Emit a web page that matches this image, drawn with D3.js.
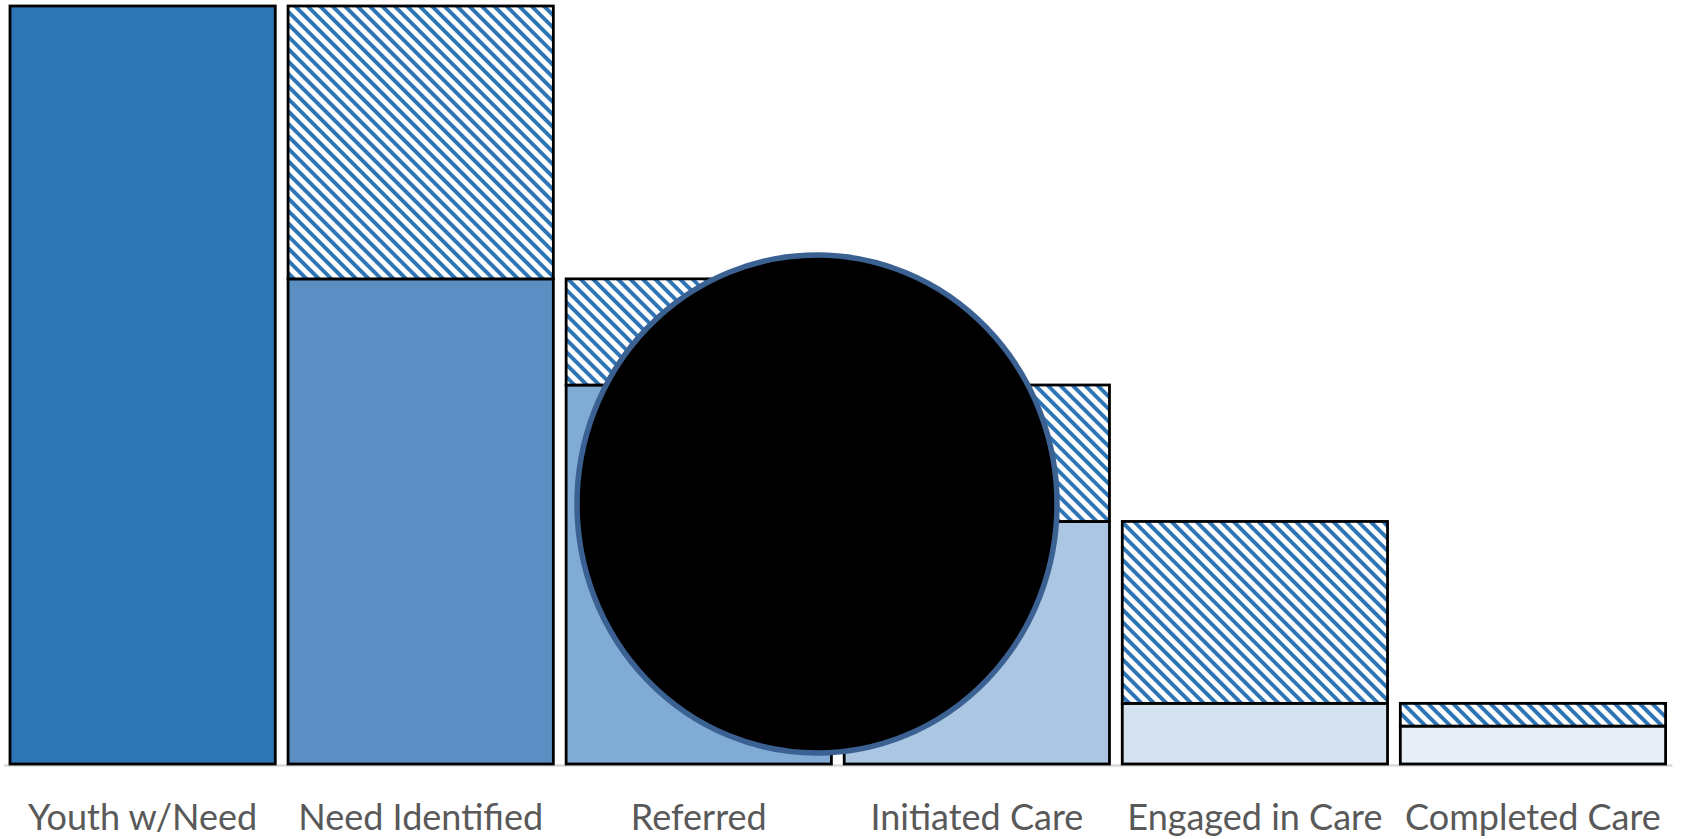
<!DOCTYPE html>
<html>
<head>
<meta charset="utf-8">
<script src="https://cdn.jsdelivr.net/npm/d3@7"></script>
<style>
  html, body { margin: 0; padding: 0; background: #ffffff; }
  svg { display: block; }
</style>
</head>
<body>
<svg id="chart" width="1682" height="839"></svg>
<script>
// Care cascade: share of youth with a need reaching each stage (%)
const categories = ["Youth w/Need", "Need Identified", "Referred", "Initiated Care", "Engaged in Care", "Completed Care"];
const reached = [100, 64, 50, 32, 8, 5];        // solid part of each bar
const lost    = [0, 36, 14, 18, 24, 3];         // hatched part: dropped since previous stage
const stageColors = ["#2E75B6", "#5B8FC3", "#80ABD5", "#ABC6E2", "#D4E1EF", "#E7EEF7"];

const svg = d3.select("#chart");
const baseY = 764, topY = 6;

const x = d3.scaleBand()
  .domain(categories)
  .range([3.6, 1672])
  .paddingInner(0.046)
  .paddingOuter(0.023);

const y = d3.scaleLinear()
  .domain([0, 100])
  .range([baseY, topY]);

// Diagonal hatch fill for the drop-off segments
const defs = svg.append("defs");
const period = 8.8;
const pat = defs.append("pattern")
  .attr("id", "hatch")
  .attr("patternUnits", "userSpaceOnUse")
  .attr("width", period)
  .attr("height", 20)
  .attr("patternTransform", "rotate(-45)");
pat.append("rect").attr("width", period).attr("height", 20).attr("fill", "#ffffff");
pat.append("rect").attr("x", 0).attr("width", 3.9).attr("height", 20).attr("fill", "#2E75B6");

const rows = categories.map((c, i) => ({ cat: c, reached: reached[i], lost: lost[i], color: stageColors[i] }));

// Axis baseline and stage labels
const axis = d3.axisBottom(x).tickSize(0).tickPadding(39);
const gAxis = svg.append("g")
  .attr("transform", `translate(0,${baseY + 1})`)
  .call(axis);
gAxis.select(".domain").attr("stroke", "#D9D9D9").attr("stroke-width", 2.5);
gAxis.selectAll(".tick text")
  .attr("fill", "#595959")
  .style("font-family", "Lato, 'Open Sans', sans-serif")
  .style("font-size", "36px");

const bars = svg.append("g");

// solid segment
bars.selectAll("rect.solid")
  .data(rows)
  .join("rect")
  .attr("class", "solid")
  .attr("x", d => x(d.cat))
  .attr("width", x.bandwidth())
  .attr("y", d => y(d.reached))
  .attr("height", d => y(0) - y(d.reached))
  .attr("fill", d => d.color)
  .attr("stroke", "#000")
  .attr("stroke-width", 2.8);

// hatched drop-off segment stacked on top
bars.selectAll("rect.lost")
  .data(rows.filter(d => d.lost > 0))
  .join("rect")
  .attr("class", "lost")
  .attr("x", d => x(d.cat))
  .attr("width", x.bandwidth())
  .attr("y", d => y(d.reached + d.lost))
  .attr("height", d => y(d.reached) - y(d.reached + d.lost))
  .attr("fill", "url(#hatch)")
  .attr("stroke", "#000")
  .attr("stroke-width", 2.8);

// Overlay ellipse across the middle stages
svg.append("ellipse")
  .attr("cx", 817)
  .attr("cy", 504)
  .attr("rx", 240)
  .attr("ry", 249)
  .attr("fill", "#000000")
  .attr("stroke", "#3B6192")
  .attr("stroke-width", 5.5);
</script>
</body>
</html>
